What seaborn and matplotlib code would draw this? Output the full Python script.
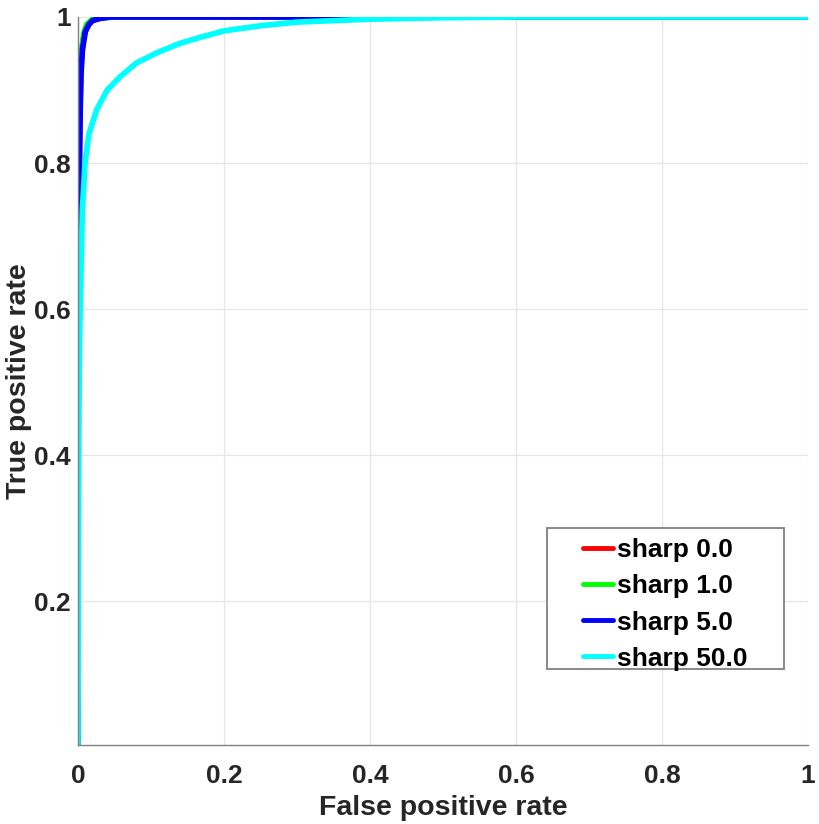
import pandas as pd
import seaborn as sns
import matplotlib
matplotlib.use('Agg')
import matplotlib.pyplot as plt
from matplotlib.patches import Rectangle

# ROC points
fpr_sharp0 = [0, 0.0004, 0.001, 0.002, 0.003, 0.0045, 0.007, 0.011, 0.018, 0.028, 0.045, 0.1, 0.3, 0.6, 1.0]
tpr_sharp0 = [0.003, 0.62, 0.73, 0.83, 0.89, 0.94, 0.968, 0.985, 0.995, 0.999, 1.0, 1.0, 1.0, 1.0, 1.0]

fpr_sharp1 = [0, 0.0003, 0.001, 0.002, 0.003, 0.005, 0.008, 0.012, 0.02, 0.03, 0.05, 0.1, 0.3, 0.6, 1.0]
tpr_sharp1 = [0.003, 0.65, 0.76, 0.86, 0.91, 0.955, 0.978, 0.99, 0.997, 0.999, 1.0, 1.0, 1.0, 1.0, 1.0]

fpr_sharp5 = [0, 0.0005, 0.001, 0.002, 0.003, 0.004, 0.006, 0.01, 0.015, 0.02, 0.03, 0.045, 0.1, 0.3, 0.6, 1.0]
tpr_sharp5 = [0.003, 0.6, 0.7, 0.8, 0.873, 0.92, 0.955, 0.98, 0.99, 0.995, 0.998, 1.0, 1.0, 1.0, 1.0, 1.0]

fpr_sharp50 = [0, 0.001, 0.002, 0.003, 0.006, 0.0096, 0.015, 0.0256, 0.04, 0.0575, 0.08, 0.108,
               0.14, 0.167, 0.2, 0.25, 0.3, 0.4, 0.5, 0.6, 0.8, 1.0]
tpr_sharp50 = [0.003, 0.45, 0.55, 0.603, 0.736, 0.8, 0.84, 0.873, 0.9, 0.918, 0.937, 0.951,
               0.964, 0.972, 0.981, 0.988, 0.993, 0.997, 0.999, 1.0, 1.0, 1.0]

labels = ['sharp 0.0', 'sharp 1.0', 'sharp 5.0', 'sharp 50.0']
colors = ['#ff0000', '#00ff00', '#0000ff', '#00ffff']
x_ticks = [0, 0.2, 0.4, 0.6, 0.8, 1]
x_tick_labels = ['0', '0.2', '0.4', '0.6', '0.8', '1']
y_ticks = [0.2, 0.4, 0.6, 0.8, 1]
y_tick_labels = ['0.2', '0.4', '0.6', '0.8', '1']

curves = [(fpr_sharp0, tpr_sharp0), (fpr_sharp1, tpr_sharp1),
          (fpr_sharp5, tpr_sharp5), (fpr_sharp50, tpr_sharp50)]

sns.set_style('white')
plt.rcParams['font.family'] = ['Liberation Sans', 'DejaVu Sans']
plt.rcParams['font.weight'] = 'bold'

W, H = 820, 824
fig = plt.figure(figsize=(W / 100, H / 100), dpi=100)
ax = fig.add_axes([78 / W, 1 - 745 / H, 730 / W, 728 / H])

for (fpr, tpr), label, color in zip(curves, labels, colors):
    df = pd.DataFrame({'fpr': fpr, 'tpr': tpr})
    sns.lineplot(data=df, x='fpr', y='tpr', ax=ax, color=color, linewidth=4.1,
                 label=label, sort=False, estimator=None)

ax.set_xlim(0, 1)
ax.set_ylim(min(tpr_sharp50), 1)
ax.set_xticks(x_ticks)
ax.set_xticklabels(x_tick_labels)
ax.set_yticks(y_ticks)
ax.set_yticklabels(y_tick_labels)
ax.tick_params(direction='in', length=6, width=1, colors='#262626', labelsize=19)
ax.tick_params(axis='x', pad=14)
ax.tick_params(axis='y', pad=5)
for lbl in ax.get_xticklabels() + ax.get_yticklabels():
    lbl.set_fontweight('bold')
ax.grid(True, color='#e6e6e6', linewidth=0.9)
ax.set_axisbelow(True)

for side in ['top', 'right']:
    ax.spines[side].set_visible(False)
for side in ['left', 'bottom']:
    ax.spines[side].set_color('#808080')
    ax.spines[side].set_linewidth(1)

ax.set_xlabel('False positive rate', fontsize=20.5, fontweight='bold', color='#262626', labelpad=5)
ax.set_ylabel('True positive rate', fontsize=20.5, fontweight='bold', color='#262626', labelpad=2)

# legend frame in MATLAB style: fixed box, entries centred inside it
box = (547 / W, 1 - 669 / H, 237 / W, 141 / H)
fig.patches.append(Rectangle((box[0], box[1]), box[2], box[3], transform=fig.transFigure,
                             facecolor='white', edgecolor='#808080', linewidth=1.3, zorder=5))
handles, leg_labels = ax.get_legend_handles_labels()
ax.get_legend().remove()
leg = fig.legend(handles, leg_labels, loc='center',
                 bbox_to_anchor=(box[0] + box[2] / 2, box[1] + box[3] / 2 - 6 / H),
                 frameon=False, handlelength=1.15, handletextpad=0.15,
                 borderpad=0, labelspacing=0.46, prop={'weight': 'bold', 'size': 19})
leg.set_zorder(6)
for text in leg.get_texts():
    text.set_color('black')
for line in leg.get_lines():
    line.set_linewidth(3.5)

plt.savefig('out.png', dpi=100)
plt.close()
